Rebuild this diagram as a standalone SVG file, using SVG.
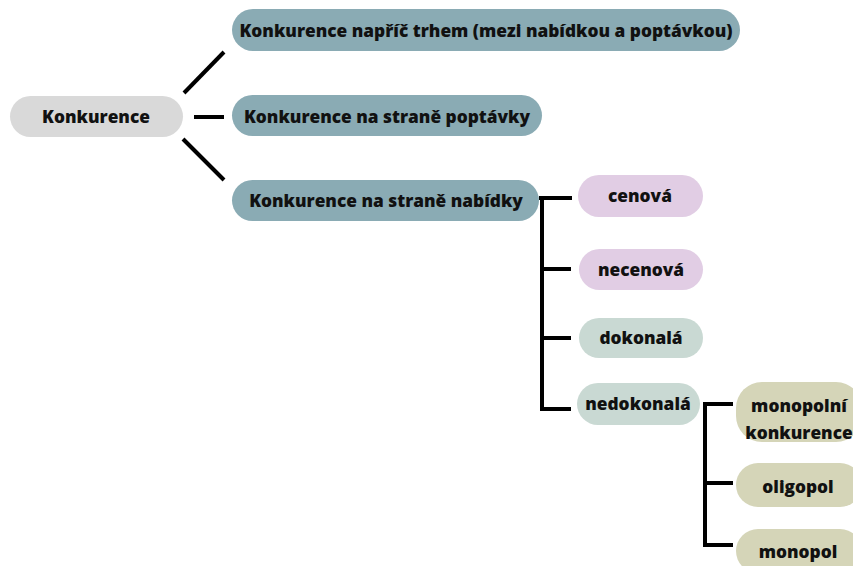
<svg xmlns="http://www.w3.org/2000/svg" width="853" height="566" viewBox="0 0 853 566">
  <style>
    .lbl { font-family: "Open Sans", "Noto Sans", sans-serif; font-weight: 800; font-size: 17.3px; fill: #111; text-anchor: middle; }
    .root { fill: #d9d9d9; }
    .main { fill: #8aabb4; }
    .price { fill: #e1cde4; }
    .perf { fill: #c9d9d3; }
    .imp { fill: #d5d5b8; }
    .link { stroke: #000; stroke-width: 4; fill: none; stroke-linecap: butt; }
  </style>
  <rect width="853" height="566" fill="#fff"/>

  <g id="connectors">
    <line class="link" x1="184" y1="93" x2="224" y2="52"/>
    <line class="link" x1="194" y1="117" x2="224" y2="117"/>
    <line class="link" x1="183" y1="139" x2="224" y2="180"/>
    <path class="link" d="M539 198 H572 M542 196 V411 M542 269 H571 M542 338 H571 M540 409 H571"/>
    <path class="link" d="M703 404 H733 M705 402 V547 M705 483 H733 M703 545 H733"/>
  </g>

  <g id="root">
    <rect class="root" x="10" y="96" width="173" height="41" rx="20.5"/>
    <text class="lbl" x="96" y="123">Konkurence</text>
  </g>
  <g id="trh">
    <rect class="main" x="232" y="9" width="508" height="42" rx="21"/>
    <text class="lbl" x="486" y="37">Konkurence napříč trhem (mezi nabídkou a poptávkou)</text>
  </g>
  <g id="poptavka">
    <rect class="main" x="232" y="95" width="310" height="41" rx="20.5"/>
    <text class="lbl" x="387" y="123">Konkurence na straně poptávky</text>
  </g>
  <g id="nabidka">
    <rect class="main" x="232" y="180" width="307" height="41" rx="20.5"/>
    <text class="lbl" x="386" y="207">Konkurence na straně nabídky</text>
  </g>
  <g id="cenova">
    <rect class="price" x="578" y="175" width="125" height="42" rx="21"/>
    <text class="lbl" x="640" y="202">cenová</text>
  </g>
  <g id="necenova">
    <rect class="price" x="579" y="249" width="124" height="41" rx="20.5"/>
    <text class="lbl" x="641" y="276">necenová</text>
  </g>
  <g id="dokonala">
    <rect class="perf" x="579" y="318" width="124" height="40" rx="20"/>
    <text class="lbl" x="641" y="344">dokonalá</text>
  </g>
  <g id="nedokonala">
    <rect class="perf" x="577" y="383" width="123" height="42" rx="21"/>
    <text class="lbl" x="638" y="410">nedokonalá</text>
  </g>
  <g id="monopolni-konkurence">
    <rect class="imp" x="736" y="382" width="126" height="60" rx="26"/>
    <text class="lbl" x="799" y="412">monopolní</text>
    <text class="lbl" x="799" y="439">konkurence</text>
  </g>
  <g id="oligopol">
    <rect class="imp" x="736" y="463" width="126" height="44" rx="22"/>
    <text class="lbl" x="798" y="493">oligopol</text>
  </g>
  <g id="monopol">
    <rect class="imp" x="736" y="529" width="126" height="44" rx="22"/>
    <text class="lbl" x="798" y="558">monopol</text>
  </g>
</svg>
